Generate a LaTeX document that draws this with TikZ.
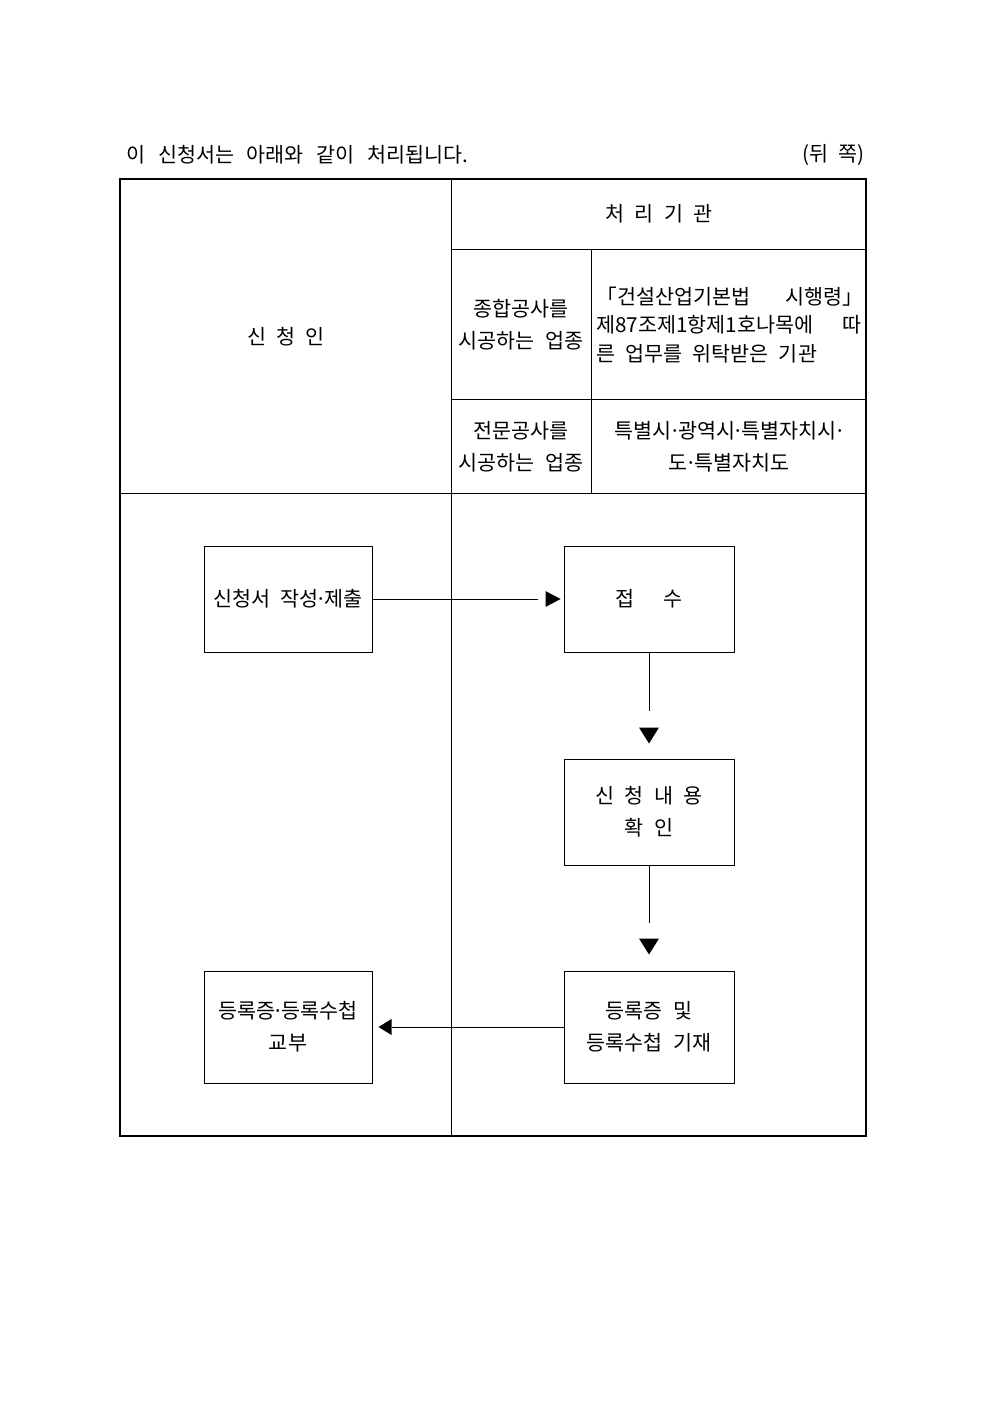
\documentclass[tikz,border=0pt]{standalone}
\usepackage{fontspec}
\setmainfont[WordSpace=2.2]{Noto Sans CJK KR}
\usetikzlibrary{calc}
\newcommand{\md}{\kern-0.12em·\kern-0.12em}
\begin{document}
\begin{tikzpicture}[x=0.6pt,y=-0.6pt,
  every node/.style={inner sep=0pt, font=\fontsize{12.4pt}{19.2pt}\selectfont},
  thinline/.style={line width=0.6pt},
  frame/.style={line width=1.2pt},
  flowbox/.style={draw, line width=0.6pt, align=center, minimum width=100.8pt, minimum height=63.6pt},
  arrowhead/.style={fill=black}]
\useasboundingbox (0,0) rectangle (992,1403);

% header texts
\node[anchor=west] (title) at (126,155) {\makebox[205pt][s]{이 신청서는 아래와 같이 처리됩니다.}};
\node[anchor=east] (side) at (865,155) {(뒤 쪽)};

% table
\draw[frame] (120,179) rectangle (866,1136);
\draw[thinline] (451,179) -- (451,1136);
\draw[thinline] (120,493) -- (866,493);
\draw[thinline] (451,250) -- (866,250);
\draw[thinline] (451,399) -- (866,399);
\draw[thinline] (591,250) -- (591,493);

\node (agency) at (659,214) {처 리 기 관};
\node (applicant) at (286,337) {신 청 인};
\node[align=center] (gen) at (521,325) {종합공사를\\시공하는 업종};
\node[align=center] (spec) at (521,447) {전문공사를\\시공하는 업종};
\node[anchor=west] (l1) at (596,297) {\makebox[160pt][s]{「건설산업기본법 시행령」}};
\node[anchor=west] (l2) at (596,325) {\makebox[159pt][s]{제87조제1항제1호나목에 따}};
\node[anchor=west] (l3) at (596,354) {른 업무를 위탁받은 기관};
\node[align=center] (city) at (729,447) {특별시\md 광역시\md 특별자치시\md\\도\md 특별자치도};

% flow boxes
\node[flowbox] (b1) at (288,599) {신청서 작성\md 제출};
\node[flowbox, minimum width=102pt] (b2) at (649,599) {접\hspace{1.4em}수};
\node[flowbox, minimum width=102pt] (b3) at (649,812) {신 청 내 용\\확 인};
\node[flowbox, minimum width=102pt, minimum height=67.2pt] (b4) at (649,1027) {등록증 및\\등록수첩 기재};
\node[flowbox, minimum height=67.2pt] (b5) at (288,1027) {등록증\md 등록수첩\\교부};

% connectors
\draw[thinline] (b1.east) -- ($(b2.west)+(-26,0)$);
\fill[arrowhead] ($(b2.west)+(-18,-8)$) -- ($(b2.west)+(-3,0)$) -- ($(b2.west)+(-18,8)$) -- cycle;

\draw[thinline] (b2.south) -- ($(b2.south)+(0,58)$);
\fill[arrowhead] ($(b2.south)+(-10,75)$) -- ($(b2.south)+(10,75)$) -- ($(b2.south)+(0,91)$) -- cycle;

\draw[thinline] (b3.south) -- ($(b3.south)+(0,57)$);
\fill[arrowhead] ($(b3.south)+(-10,73)$) -- ($(b3.south)+(10,73)$) -- ($(b3.south)+(0,89)$) -- cycle;

\draw[thinline] (b4.west) -- ($(b5.east)+(19,0)$);
\fill[arrowhead] ($(b5.east)+(19,-8)$) -- ($(b5.east)+(6,0)$) -- ($(b5.east)+(19,8)$) -- cycle;
\end{tikzpicture}
\end{document}
